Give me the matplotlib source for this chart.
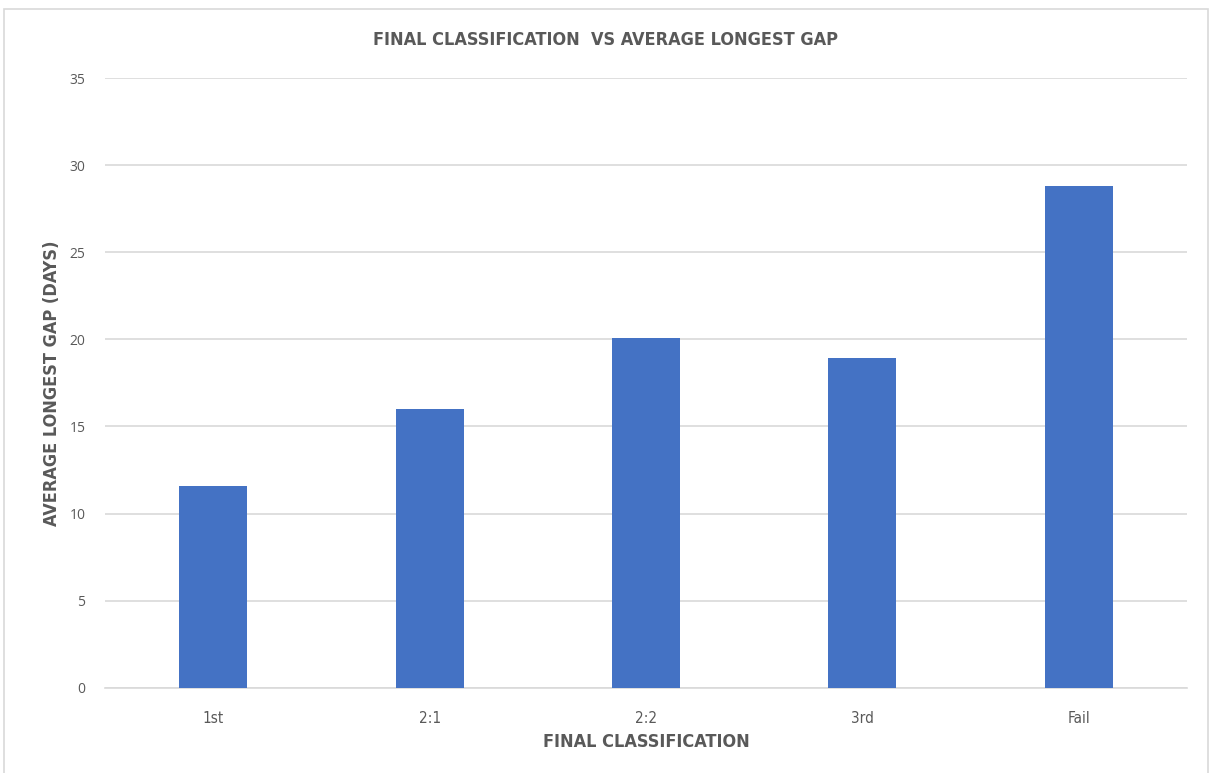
import matplotlib.pyplot as plt
from matplotlib.patches import Rectangle
from matplotlib import font_manager

categories = ['1st', '2:1', '2:2', '3rd', 'Fail']
avg_gap = [11.6, 16.0, 20.05, 18.93, 28.8]

# pick a condensed face if one is installed, else Lato
cond = [f for f in font_manager.fontManager.ttflist
        if f.name == 'DejaVu Sans' and 'ondensed' in str(f.stretch) + f.fname]
narrow = 'DejaVu Sans' if cond else 'Lato'
stretch = 'condensed' if cond else 'normal'
plt.rcParams['font.family'] = ['Open Sans', 'DejaVu Sans']

grey = '#595959'
fig = plt.figure(figsize=(12.11, 7.73), dpi=100)
ax = fig.add_axes([105/1211, 1-687.7/773, (1187-105)/1211, (687.7-78)/773])

x = range(len(categories))
ax.bar(x, avg_gap, width=0.315, color='#4472C4', zorder=3)

ax.set_xlim(-0.5, len(categories)-0.5)
ax.set_ylim(0, 35)
ax.set_yticks(range(0, 36, 5))
ax.set_xticks(list(x))
ax.set_xticklabels(categories, fontfamily=narrow, fontstretch=stretch,
                   fontsize=11, color=grey)
ax.tick_params(axis='y', labelsize=10, colors=grey, length=0, pad=14)
ax.tick_params(axis='x', length=0, pad=17)
ax.grid(axis='y', color='#d9d9d9', linewidth=1.2, zorder=0)
for s in ['top', 'right', 'left']:
    ax.spines[s].set_visible(False)
ax.spines['bottom'].set_color('#d9d9d9')
ax.spines['bottom'].set_linewidth(1.2)

lab = dict(fontfamily=narrow, fontstretch=stretch, fontsize=13,
           fontweight='bold', color=grey)
ax.set_xlabel('FINAL CLASSIFICATION', labelpad=5, **lab)
ax.set_ylabel('AVERAGE LONGEST GAP (DAYS)', labelpad=6, **lab)
fig.text(0.5, 1-40/773, 'FINAL CLASSIFICATION  VS AVERAGE LONGEST GAP',
         ha='center', va='center', **lab)

fig.patches.append(Rectangle((4/1211, -0.01), 1204/1211, 1.01-9/773,
                             transform=fig.transFigure, fill=False,
                             edgecolor='#d9d9d9', linewidth=1.2))

fig.savefig('out.png', dpi=100)
